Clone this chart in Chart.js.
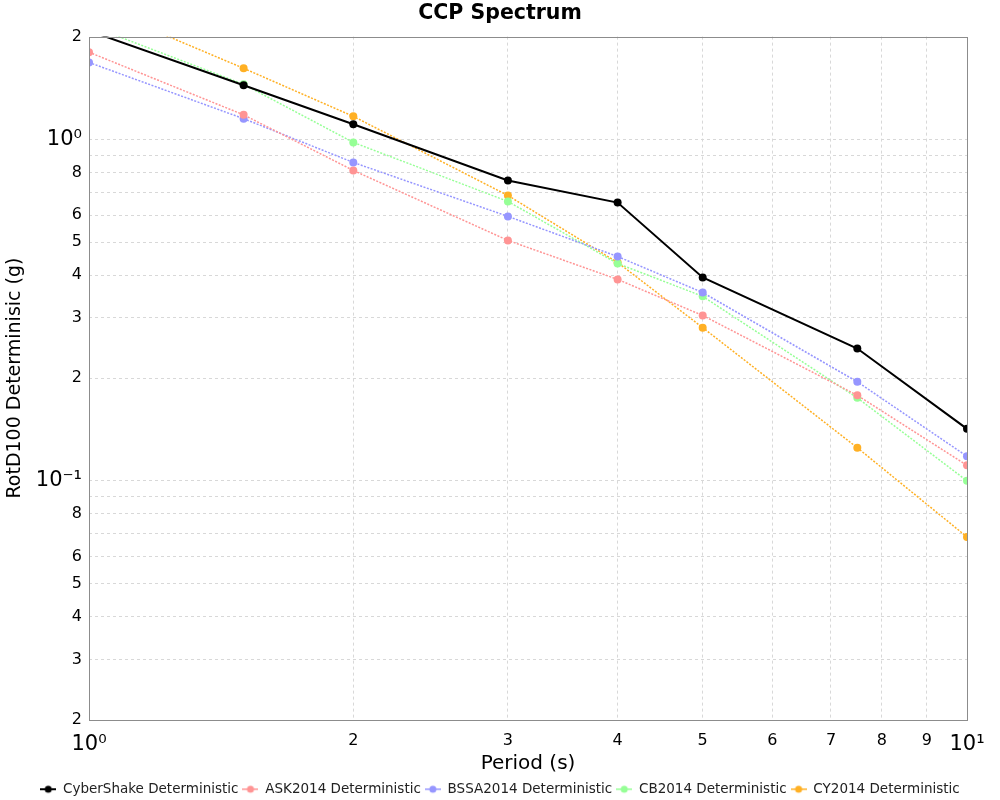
<!DOCTYPE html>
<html>
<head>
<meta charset="utf-8">
<title>CCP Spectrum</title>
<script src="https://cdn.jsdelivr.net/npm/chart.js@4.4.0/dist/chart.umd.min.js"></script>
<style>
    html, body { margin: 0; padding: 0; background: #fff; }
    #wrap { width: 1000px; height: 800px; }
</style>
</head>
<body>
<div id="wrap"><canvas id="spectrumChart"></canvas></div>
<script>
// periods (s)
const periods = [1, 1.5, 2, 3, 4, 5, 7.5, 10];

// RotD100 values (g)
const cyberShake = [2.08, 1.44, 1.107, 0.758, 0.653, 0.394, 0.244, 0.142];
const ask2014 = [1.80, 1.18, 0.811, 0.506, 0.389, 0.305, 0.178, 0.111];
const bssa2014 = [1.68, 1.15, 0.856, 0.595, 0.454, 0.356, 0.195, 0.118];
const cb2014 = [2.16, 1.45, 0.98, 0.658, 0.433, 0.347, 0.175, 0.100];
const cy2014 = [2.51, 1.615, 1.168, 0.685, 0.436, 0.281, 0.125, 0.0685];

const seriesNames = [
    'CyberShake Deterministic', 'ASK2014 Deterministic', 'BSSA2014 Deterministic',
    'CB2014 Deterministic', 'CY2014 Deterministic'
];

// tick positions
const xTickValues = [1, 2, 3, 4, 5, 6, 7, 8, 9, 10];
const yTickValues = [
    0.02, 0.03, 0.04, 0.05, 0.06, 0.07, 0.08, 0.09,
    0.1, 0.2, 0.3, 0.4, 0.5, 0.6, 0.7, 0.8, 0.9,
    1, 2
];
const yLabelledMantissas = [2, 3, 4, 5, 6, 8];

const FONT = "'DejaVu Sans', Verdana, sans-serif";
const gridColor = '#d8d8d8';

const decadeLabel = (v) => {
    const exp = Math.round(Math.log10(v));
    if (Math.abs(Math.log10(v) - exp) > 1e-9) return null;
    const sup = { '0': '\u2070', '1': '\u00b9', '-': '\u207b' };
    return '10' + String(exp).split('').map((c) => sup[c]).join('');
};

const mantissa = (v) => Math.round(v / Math.pow(10, Math.floor(Math.log10(v) + 1e-9)));

function legendSymbol(color, lineWidth) {
    const c = document.createElement('canvas');
    c.width = 16;
    c.height = 10;
    const g = c.getContext('2d');
    g.strokeStyle = color;
    g.lineWidth = lineWidth;
    g.beginPath();
    g.moveTo(0, 5);
    g.lineTo(16, 5);
    g.stroke();
    g.fillStyle = color;
    g.beginPath();
    g.arc(8, 5, 3.5, 0, Math.PI * 2);
    g.fill();
    return c;
}

const frame = {
    id: 'frame',
    afterDatasetsDraw(chart) {
        const { ctx, chartArea: a } = chart;
        ctx.save();
        ctx.strokeStyle = '#8c8c8c';
        ctx.lineWidth = 1;
        ctx.strokeRect(Math.round(a.left) + 0.5, Math.round(a.top) + 0.5,
            Math.round(a.right - a.left), Math.round(a.bottom - a.top));
        ctx.restore();
    },
};

const colors = ['#000000', '#ff9494', '#9696ff', '#96ff96', '#ffb024'];

function makeDataset(label, values, color, main) {
    return {
        label,
        data: periods.map((p, i) => ({ x: p, y: values[i] })),
        borderColor: color,
        backgroundColor: color,
        borderWidth: main ? 2 : 1.5,
        borderDash: main ? [] : [2, 1.5],
        pointRadius: 4,
        pointHoverRadius: 4,
        pointBorderWidth: 0,
        pointBackgroundColor: color,
        pointStyle: 'circle',
        tension: 0,
    };
}

const canvas = document.getElementById('spectrumChart');
canvas.width = 1000;
canvas.height = 800;

new Chart(canvas, {
    type: 'line',
    data: {
        datasets: [
            makeDataset(seriesNames[0], cyberShake, colors[0], true),
            makeDataset(seriesNames[1], ask2014, colors[1], false),
            makeDataset(seriesNames[2], bssa2014, colors[2], false),
            makeDataset(seriesNames[3], cb2014, colors[3], false),
            makeDataset(seriesNames[4], cy2014, colors[4], false),
        ],
    },
    options: {
        responsive: false,
        animation: false,
        devicePixelRatio: 1,
        layout: { padding: { left: 0, right: 0, top: 0, bottom: -6 } },
        plugins: {
            title: {
                display: true,
                text: 'CCP Spectrum',
                color: '#000',
                font: { family: FONT, size: 20.5, weight: 'bold' },
                padding: { top: 1, bottom: 11 },
            },
            legend: {
                position: 'bottom',
                labels: {
                    color: '#222',
                    font: { family: FONT, size: 13.5 },
                    usePointStyle: true,
                    pointStyleWidth: 16,
                    boxHeight: 10,
                    padding: 4,
                    generateLabels: (chart) => {
                        const items = Chart.defaults.plugins.legend.labels.generateLabels(chart);
                        return items.map((it, i) => ({
                            ...it,
                            pointStyle: legendSymbol(colors[i], i === 0 ? 2 : 1.5),
                            lineWidth: 0,
                        }));
                    },
                },
            },
            tooltip: { enabled: false },
        },
        scales: {
            x: {
                type: 'logarithmic',
                min: 1,
                max: 10,
                afterBuildTicks: (scale) => {
                    scale.ticks = xTickValues.map((v) => ({ value: v }));
                },
                afterFit: (scale) => { scale.height = 59; },
                ticks: {
                    autoSkip: false,
                    maxRotation: 0,
                    padding: 12,
                    color: '#000',
                    font: (ctx) => ({ family: FONT, size: decadeLabel(ctx.tick.value) ? 21 : 16 }),
                    callback: (v) => decadeLabel(v) || String(v),
                },
                grid: {
                    color: (ctx) => (ctx.tick && (ctx.tick.value === 1 || ctx.tick.value === 10) ? 'rgba(0,0,0,0)' : gridColor),
                    drawTicks: false,
                },
                border: { display: false, dash: [3, 3] },
                title: {
                    display: true,
                    text: 'Period (s)',
                    color: '#000',
                    font: { family: FONT, size: 20 },
                    padding: { top: 0, bottom: 3 },
                },
            },
            y: {
                type: 'logarithmic',
                min: 0.02,
                max: 2,
                afterBuildTicks: (scale) => {
                    scale.ticks = yTickValues.map((v) => ({ value: v }));
                },
                afterFit: (scale) => { scale.width = 89; },
                ticks: {
                    autoSkip: false,
                    padding: 7,
                    color: '#000',
                    font: (ctx) => ({ family: FONT, size: decadeLabel(ctx.tick.value) ? 21 : 16 }),
                    callback: (v) => {
                        const d = decadeLabel(v);
                        if (d) return d;
                        return yLabelledMantissas.includes(mantissa(v)) ? String(mantissa(v)) : '';
                    },
                },
                grid: {
                    color: (ctx) => (ctx.tick && (ctx.tick.value === 0.02 || ctx.tick.value === 2) ? 'rgba(0,0,0,0)' : gridColor),
                    drawTicks: false,
                },
                border: { display: false, dash: [3, 3] },
                title: {
                    display: true,
                    text: 'RotD100 Determinisic (g)',
                    color: '#000',
                    font: { family: FONT, size: 19 },
                    padding: { top: 4, bottom: 0 },
                },
            },
            // empty right-hand strip so the title and legend stay centred on the page
            yRight: {
                type: 'linear',
                position: 'right',
                display: true,
                afterFit: (scale) => { scale.width = 33; },
                ticks: { display: false },
                grid: { display: false, drawTicks: false },
                border: { display: false },
            },
        },
    },
    plugins: [frame],
});
</script>
</body>
</html>
